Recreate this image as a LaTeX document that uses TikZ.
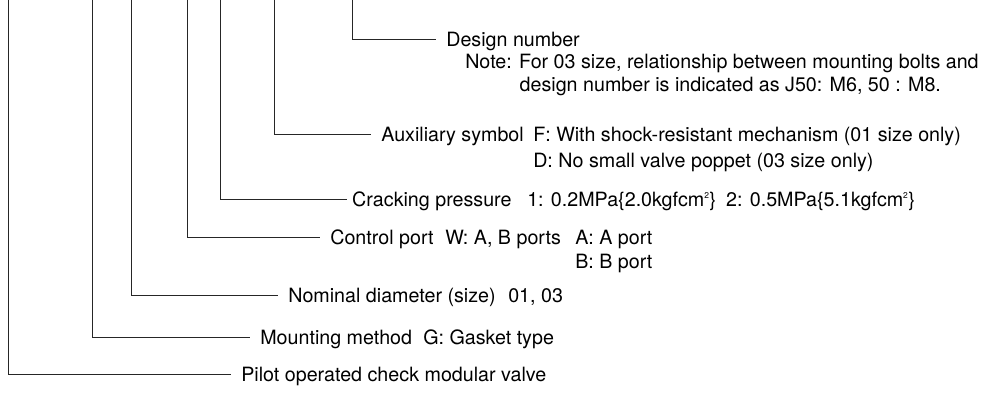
\documentclass[tikz,border=0pt]{standalone}
\usepackage{fontspec}
\setmainfont{TeX Gyre Heros}

\tikzset{
  lbl/.style={anchor=west, inner xsep=7pt, inner ysep=0pt, text height=10pt,
    text depth=0pt, font=\fontsize{14}{16}\selectfont},
  txt/.style={lbl, inner xsep=0pt},
  lead/.style={line width=0.6pt, black!85}
}
\newcommand{\sqcm}{\textsuperscript{\fontsize{6}{6}\selectfont 2}}

\begin{document}
\begin{tikzpicture}[scale=0.5]
    \useasboundingbox (0,0) rectangle (49.35,19.6);

    % tops of the leaders (code position)
    \coordinate (pilottop) at (0.42,19.6);
    \coordinate (mounttop) at (4.62,19.6);
    \coordinate (nomtop) at (6.55,19.6);
    \coordinate (ctrltop) at (9.39,19.6);
    \coordinate (cracktop) at (11.02,19.6);
    \coordinate (auxtop) at (13.74,19.6);
    \coordinate (designtop) at (17.6,19.6);

    % design number
    \node[lbl] (design) at (21.81,17.65) {Design number};
    \node[txt] (note) at (23.25,16.55) {Note: For 03 size, relationship between mounting bolts and};
    \node[txt] (note2) at (25.97,15.4) {design number is indicated as J50: M6, 50 : M8.};

    % auxiliary symbol
    \node[lbl] (aux) at (18.56,12.9) {Auxiliary symbol};
    \node[txt] (auxf) at (26.65,12.9) {F: With shock-resistant mechanism (01 size only)};
    \node[txt] (auxd) at (26.65,11.6) {D: No small valve poppet (03 size only)};

    % cracking pressure
    \node[lbl, inner xsep=3.5pt] (crack) at (17.35,9.65) {Cracking pressure};
    \node[txt] (crackval) at (26.35,9.65)
        {1: 0.2MPa\{2.0kgfcm\sqcm\}\enspace 2: 0.5MPa\{5.1kgfcm\sqcm\}};

    % control port
    \node[lbl] (ctrl) at (16.01,7.75) {Control port};
    \node[txt] (ctrlw) at (22.25,7.75) {W: A, B ports};
    \node[txt] (ctrla) at (28.75,7.75) {A: A port};
    \node[txt] (ctrlb) at (28.75,6.55) {B: B port};

    % nominal diameter
    \node[lbl] (nom) at (13.91,4.85) {Nominal diameter (size)};
    \node[txt] (nomval) at (25.4,4.85) {01, 03};

    % mounting method
    \node[lbl] (mount) at (12.51,2.75) {Mounting method};
    \node[txt] (mountg) at (21.15,2.75) {G: Gasket type};

    % product name
    \node[lbl] (pilot) at (11.56,0.875) {Pilot operated check modular valve};

    \draw[lead] (pilottop) |- (pilot.west);
    \draw[lead] (mounttop) |- (mount.west);
    \draw[lead] (nomtop) |- (nom.west);
    \draw[lead] (ctrltop) |- (ctrl.west);
    \draw[lead] (cracktop) |- (crack.west);
    \draw[lead] (auxtop) |- (aux.west);
    \draw[lead] (designtop) |- (design.west);
\end{tikzpicture}
\end{document}
